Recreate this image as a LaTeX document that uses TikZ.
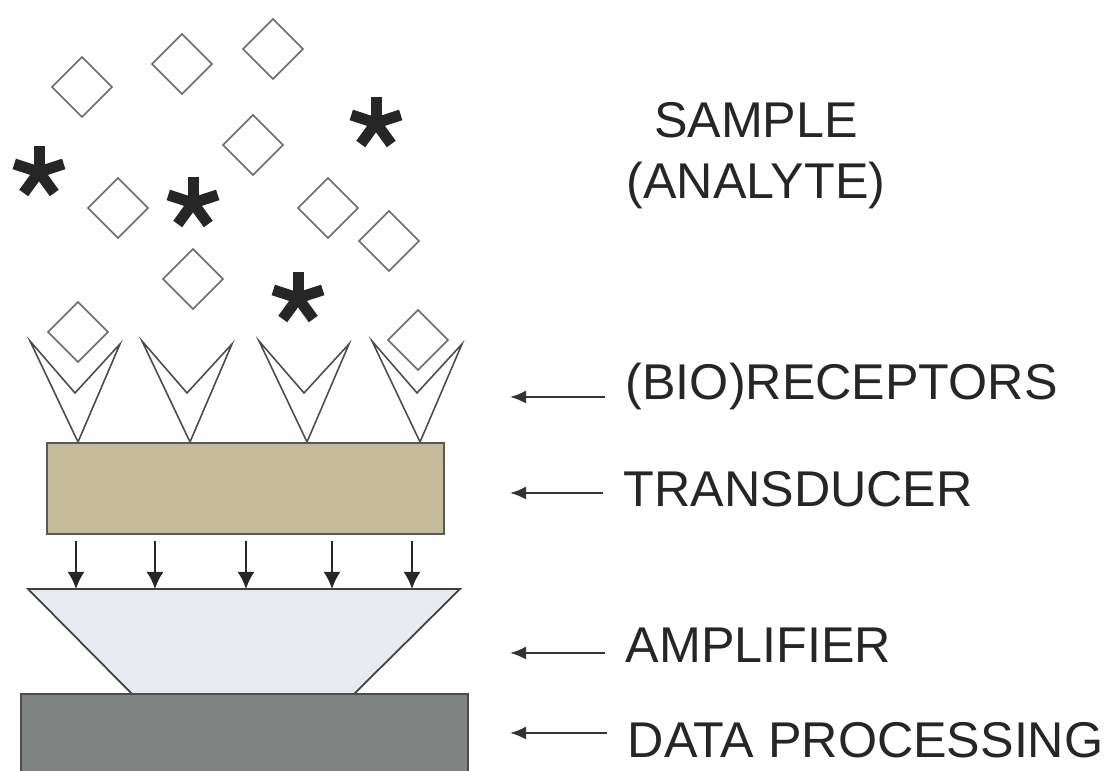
\documentclass[tikz,border=0pt]{standalone}
\usepackage{fontspec}
\setmainfont{Liberation Sans}
\usetikzlibrary{arrows.meta}

\definecolor{transd}{RGB}{196,188,152}
\definecolor{ampl}{RGB}{231,234,238}
\definecolor{datap}{RGB}{127,131,129}

\begin{document}
\begin{tikzpicture}[x=0.1mm,y=-0.1mm,line join=miter,
  >={Latex[length=1.6mm,width=1.3mm]},
  lbl/.style={anchor=base west,inner sep=0pt,inner xsep=2mm,font=\fontsize{14.3}{17.4}\selectfont},
  analyte/.style={draw=gray!85!black,line width=0.45pt},
  receptor/.style={draw=black!70,line width=0.45pt}]

\useasboundingbox (0,0) rectangle (1111,771);

% sample: free analyte molecules
\foreach \dx/\dy in {82/87,182/64,273/49,253/145,118/208,328/208,389/241,193/279,78/332,418/340}
  \draw[analyte] (\dx,\dy) ++(-30,0) -- ++(30,-30) -- ++(30,30) -- ++(-30,30) -- cycle;

\foreach \ax/\ay in {39/172,376/123,193/203,298/298}
  \foreach \ang in {90,18,162,-54,234}
    \draw[line width=1.1mm,black!85] (\ax,\ay) -- ++(\ang:2.6mm);

% (bio)receptors
\foreach \tx in {78,190,307,420}
  \draw[receptor] (\tx,442) -- ++(-48,-101) -- ({\tx-3},393) -- ({\tx+42},344) -- cycle;

\draw[fill=transd,draw=black!65,line width=0.6pt] (47,443) rectangle (444,534);

\draw[fill=ampl,draw=black!75,line width=0.5pt] (28,589) -- (460,589) -- (354,694) -- (132,694) -- cycle;
\draw[fill=datap,draw=black!70,line width=0.6pt] (21,694) rectangle (468,776);

\foreach \vx in {76,155,246,332,412}
  \draw[-{Latex[length=1.7mm,width=1.7mm]},line width=0.6pt,black!85] (\vx,541) -- (\vx,589);

% labels
\node[anchor=north,align=center,inner sep=0pt,font=\fontsize{14.3}{17.4}\selectfont,black!85] (sample) at (756,102) {SAMPLE\\(ANALYTE)};

\node[lbl,black!85] (lrec) at (605,400) {(BIO)RECEPTORS};
\node[lbl,black!85] (ltra) at (603,507) {TRANSDUCER};
\node[lbl,black!85] (lamp) at (605,663) {AMPLIFIER};
\node[lbl,black!85] (ldat) at (607,757) {DATA PROCESSING};

\coordinate (crec) at (510,397);
\coordinate (ctra) at (510,493);
\coordinate (camp) at (510,653);
\coordinate (cdat) at (510,733);

\draw[->,line width=0.6pt,black!80] (lrec.west |- crec) -- (crec);
\draw[->,line width=0.6pt,black!80] (ltra.west |- ctra) -- (ctra);
\draw[->,line width=0.6pt,black!80] (lamp.west |- camp) -- (camp);
\draw[->,line width=0.6pt,black!80] (ldat.west |- cdat) -- (cdat);

\end{tikzpicture}
\end{document}
